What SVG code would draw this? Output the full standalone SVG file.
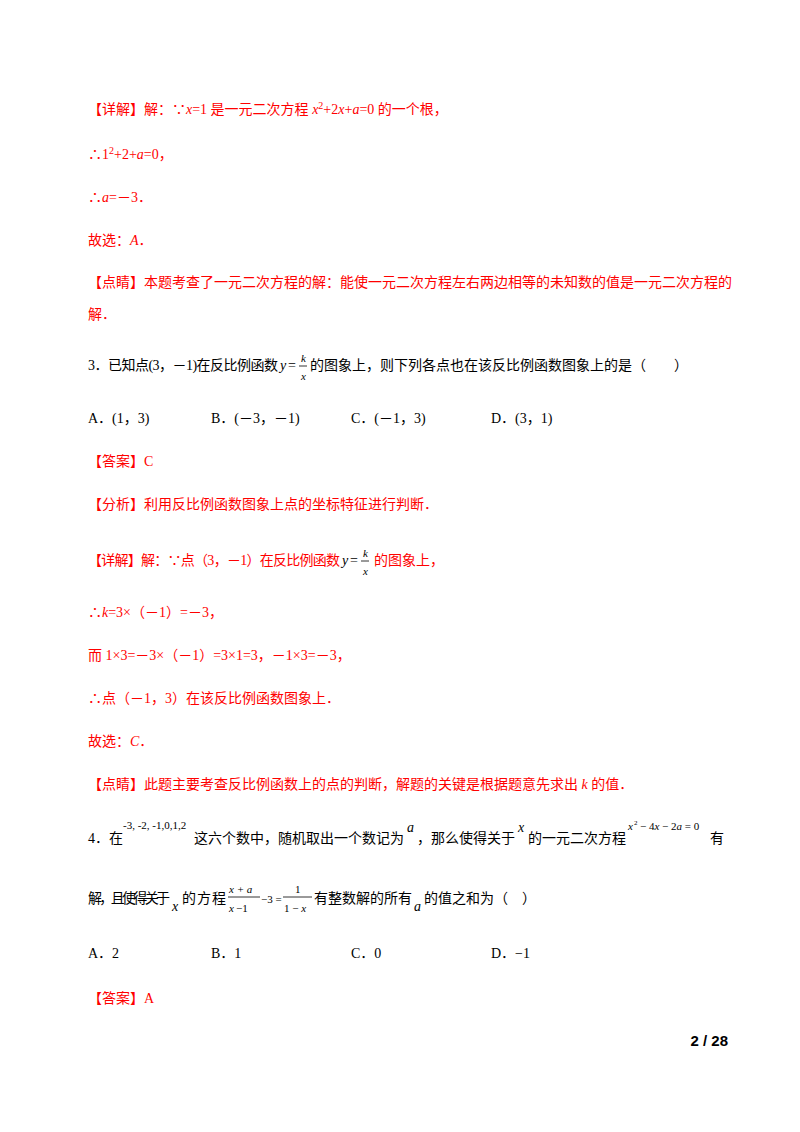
<svg xmlns="http://www.w3.org/2000/svg" width="800" height="1132" viewBox="0 0 800 1132">
<style>
text{font-family:"Liberation Serif","Noto Sans CJK SC",serif;font-size:14px;fill:#000}
.r{fill:#ff0000}
.i{font-style:italic}
.s{font-size:10px}
.m{font-size:11px}
</style>
<rect width="800" height="1132" fill="#fff"/>
<text class="r" x="88" y="114">【详解】解：∵<tspan class="i">x</tspan>=1 是一元二次方程 <tspan class="i">x</tspan><tspan class="s" dy="-5">2</tspan><tspan dy="5">+2</tspan><tspan class="i">x</tspan>+<tspan class="i">a</tspan>=0 的一个根，</text>
<text class="r" x="88" y="159">∴1<tspan class="s" dy="-5">2</tspan><tspan dy="5">+2+</tspan><tspan class="i">a</tspan>=0，</text>
<text class="r" x="88" y="202">∴<tspan class="i">a</tspan>=－3．</text>
<text class="r" x="88" y="245">故选：<tspan class="i">A</tspan>．</text>
<text class="r" x="88" y="287">【点睛】本题考查了一元二次方程的解：能使一元二次方程左右两边相等的未知数的值是一元二次方程的</text>
<text class="r" x="88" y="319">解．</text>
<text x="88" y="370" textLength="190">3．已知点(3，－1)在反比例函数</text>
<text class="i" x="280" y="370">y</text><text x="288" y="370">=</text>
<text class="i m" x="301" y="362">k</text><line x1="299" y1="366" x2="307" y2="366" stroke="#000" stroke-width="0.8"/><text class="i m" x="301" y="380">x</text>
<text x="310" y="370">的图象上，则下列各点也在该反比例函数图象上的是（　　）</text>
<text x="88" y="423">A．(1，3)</text>
<text x="211" y="423">B．(－3，－1)</text>
<text x="351" y="423">C．(－1，3)</text>
<text x="491" y="423">D．(3，1)</text>
<text class="r" x="88" y="466">【答案】C</text>
<text class="r" x="88" y="509">【分析】利用反比例函数图象上点的坐标特征进行判断．</text>
<text class="r" x="88" y="565" textLength="252">【详解】解：∵点（3，－1）在反比例函数</text>
<text class="i" x="342" y="565">y</text><text x="350" y="565">=</text>
<text class="i m" x="363" y="557">k</text><line x1="361" y1="561" x2="369" y2="561" stroke="#000" stroke-width="0.8"/><text class="i m" x="363" y="575">x</text>
<text class="r" x="374" y="565">的图象上，</text>
<text class="r" x="88" y="617">∴<tspan class="i">k</tspan>=3×（－1）=－3，</text>
<text class="r" x="88" y="660">而 1×3=－3×（－1）=3×1=3，－1×3=－3，</text>
<text class="r" x="88" y="703">∴点（－1，3）在该反比例函数图象上．</text>
<text class="r" x="88" y="746">故选：<tspan class="i">C</tspan>．</text>
<text class="r" x="88" y="789">【点睛】此题主要考查反比例函数上的点的判断，解题的关键是根据题意先求出 <tspan class="i">k</tspan> 的值．</text>
<text x="88" y="843">4．在</text>
<text class="m" x="123" y="829">-3, -2, -1,0,1,2</text>
<text x="194" y="843">这六个数中，随机取出一个数记为</text>
<text class="i" x="407" y="832">a</text>
<text x="417" y="843">，那么使得关于</text>
<text class="i" x="518" y="832">x</text>
<text x="528" y="843">的一元二次方程</text>
<text class="i m" x="628" y="830">x</text><text x="634" y="825" style="font-size:7px">2</text><text class="m" x="640" y="830">− 4<tspan class="i">x</tspan> − 2<tspan class="i">a</tspan> = 0</text>
<text x="710" y="843">有</text>
<text x="88" y="903" textLength="82">解，且使得关于</text>
<text class="i" x="172" y="911">x</text>
<text x="182" y="903" textLength="44">的方程</text>
<text class="i m" x="229" y="893">x + a</text><line x1="228" y1="897" x2="260" y2="897" stroke="#000" stroke-width="0.8"/><text class="i m" x="229" y="912">x</text><text class="m" x="236" y="912">−1</text>
<text class="m" x="261" y="903">−3 =</text>
<text class="m" x="295" y="893">1</text><line x1="283" y1="897" x2="312" y2="897" stroke="#000" stroke-width="0.8"/><text class="m" x="284" y="912">1 − <tspan class="i">x</tspan></text>
<text x="314" y="903">有整数解的所有</text>
<text class="i" x="414" y="911">a</text>
<text x="424" y="903">的值之和为（　）</text>
<text x="88" y="958">A．2</text>
<text x="211" y="958">B．1</text>
<text x="351" y="958">C．0</text>
<text x="491" y="958">D．−1</text>
<text class="r" x="88" y="1003">【答案】A</text>
<text x="728" y="1046" text-anchor="end" style="font-family:'Liberation Sans',sans-serif;font-weight:bold;font-size:15px">2 / 28</text>
</svg>
